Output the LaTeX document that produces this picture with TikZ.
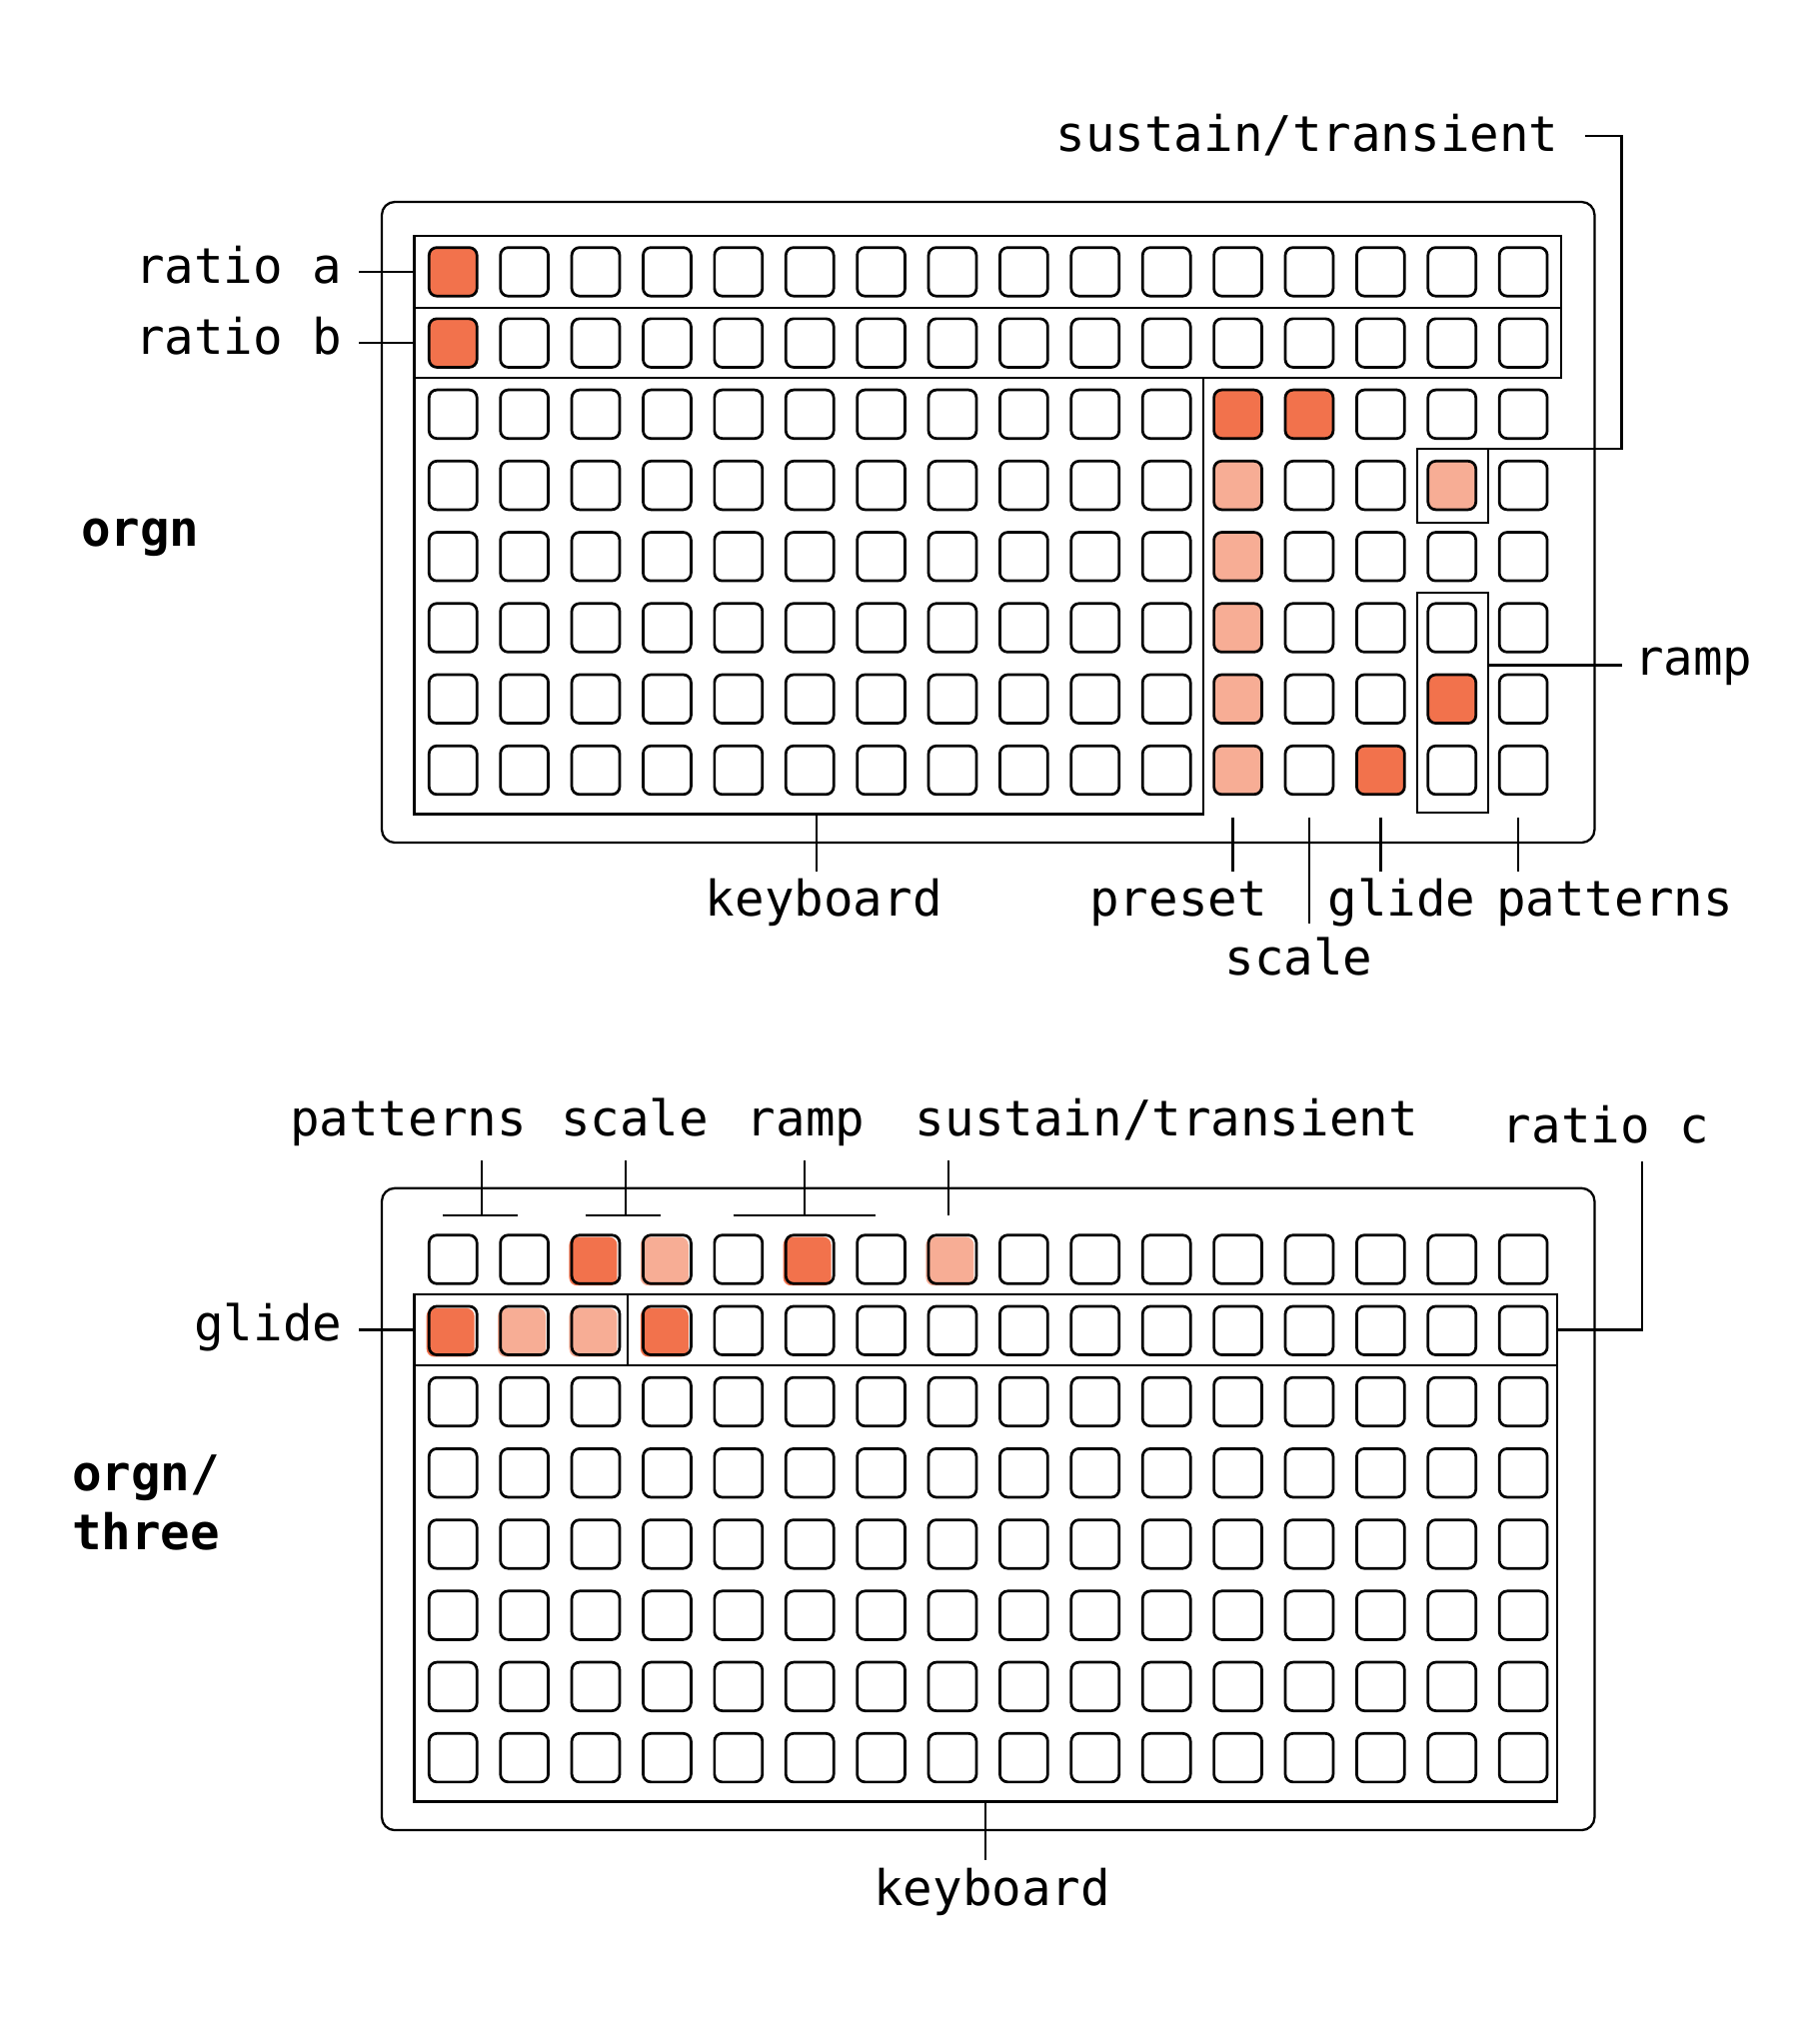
\documentclass[tikz,border=0pt]{standalone}
\usepackage{fontspec}
\setmonofont{DejaVu Sans Mono}
\usepackage{tikz}
\usetikzlibrary{positioning, calc, backgrounds}
\definecolor{hotpad}{RGB}{242, 114, 76}
\definecolor{warmpad}{RGB}{247, 173, 149}

\begin{document}
\begin{tikzpicture}[x=0.1mm, y=-0.1mm,
  pad/.style={draw, line width=0.6pt, rounded corners=0.6mm, minimum width=3.7mm, minimum height=3.75mm, inner sep=0pt, outer sep=0pt},
  zone/.style={draw, line width=0.5pt, inner sep=0pt, outer sep=0pt},
  device/.style={draw, line width=0.5pt, rounded corners=1mm, inner sep=0pt, outer sep=0pt, minimum width=93.7mm},
  lbl/.style={font=\ttfamily\fontsize{10.8pt}{13pt}\selectfont, inner sep=0pt},
  brand/.style={font=\ttfamily\bfseries\fontsize{10.8pt}{13pt}\selectfont, inner sep=0pt},
  lead/.style={line width=0.5pt}]
  \useasboundingbox (0,0) rectangle (1405.5,1567.6);

  % orgn
  \node[device, minimum height=49.5mm] (dev1) at (763.5,403.5) {};
  \foreach \r in {1,...,8}
    \foreach \c in {1,...,16}
      \node[pad] (t-\r-\c) at ({350+55.13*(\c-1)}, {210+55*(\r-1)}) {};
  \begin{pgfonlayer}{background}
    \foreach \r/\c in {1/1, 2/1, 3/12, 3/13, 7/15, 8/14}
      \fill[hotpad, rounded corners=0.6mm] (t-\r-\c.south west) rectangle (t-\r-\c.north east);
    \foreach \r/\c in {4/12, 5/12, 6/12, 7/12, 8/12, 4/15}
      \fill[warmpad, rounded corners=0.6mm] (t-\r-\c.south west) rectangle (t-\r-\c.north east);
  \end{pgfonlayer}

  \node[zone, minimum width=88.6mm, minimum height=5.6mm] (ratioa) at (763,210) {};
  \node[zone, minimum width=88.6mm, minimum height=5.4mm] (ratiob) at (763,265) {};
  \node[zone, minimum width=61mm, minimum height=33.7mm] (keys) at (625,460.5) {};
  \node[zone, minimum width=5.5mm, minimum height=5.7mm] (sustain) at (1122.5,375.5) {};
  \node[zone, minimum width=5.5mm, minimum height=17mm] (ramp) at (1122.5,543) {};

  \node[lbl, anchor=base east] (ratioa-l) at (265,219) {ratio a};
  \node[lbl, anchor=base east] (ratiob-l) at (265,274) {ratio b};
  \node[lbl, anchor=base east] (sustain-l) at (1205,117) {sustain/transient};
  \node[lbl, anchor=base west] (ramp-l) at (1262,522) {ramp};
  \node[lbl, anchor=base] (keys-l) at (636.5,708) {keyboard};
  \node[lbl, anchor=base] (preset-l) at (910.5,708) {preset};
  \node[lbl, anchor=base] (scale-l) at (1003.5,753) {scale};
  \node[lbl, anchor=base] (glide-l) at (1083,708) {glide};
  \node[lbl, anchor=base] (patterns-l) at (1247.5,708) {patterns};
  \node[brand, anchor=base west] (orgn) at (62,422) {orgn};

  \draw[lead] (ratioa.west) -- ++(-43,0);
  \draw[lead] (ratiob.west) -- ++(-43,0);
  \draw[lead] ($(sustain-l.base east)+(20,-12)$) -- ++(28,0) |- (sustain.north east);
  \draw[lead] ($(ramp.east)+(0,-29)$) -- ++(103,0);
  \draw[lead] ($(keys.south)+(6,0)$) -- ++(0,44);
  \draw[lead] ($(t-8-12.south)+(-4,18)$) -- ++(0,42);
  \draw[lead] ($(t-8-13.south)+(0,18)$) -- ++(0,82);
  \draw[lead] ($(t-8-14.south)+(0,18)$) -- ++(0,42);
  \draw[lead] ($(t-8-16.south)+(-4,18)$) -- ++(0,42);

  % orgn/three
  \node[device, minimum height=49.6mm] (dev2) at (763.5,1166) {};
  \foreach \r in {1,...,8}
    \foreach \c in {1,...,16}
      \node[pad] (b-\r-\c) at ({350+55.13*(\c-1)}, {973+55*(\r-1)}) {};
  \begin{pgfonlayer}{background}
    \foreach \r/\c in {1/3, 1/6, 2/1, 2/4}
      \fill[hotpad, rounded corners=0.6mm] ($(b-\r-\c.south west)+(-2,1.5)$) rectangle ($(b-\r-\c.north east)+(-2,1.5)$);
    \foreach \r/\c in {1/4, 1/8, 2/2, 2/3}
      \fill[warmpad, rounded corners=0.6mm] ($(b-\r-\c.south west)+(-2,1.5)$) rectangle ($(b-\r-\c.north east)+(-2,1.5)$);
  \end{pgfonlayer}

  \node[zone, minimum width=16.5mm, minimum height=5.5mm] (glide) at (402.5,1027.5) {};
  \node[zone, minimum width=71.8mm, minimum height=5.5mm] (ratioc) at (844,1027.5) {};
  \node[zone, minimum width=88.3mm, minimum height=33.7mm] (keys2) at (761.5,1223.5) {};

  \node[lbl, anchor=base] (patterns2-l) at (315.5,878) {patterns};
  \node[lbl, anchor=base] (scale2-l) at (490.5,878) {scale};
  \node[lbl, anchor=base] (ramp2-l) at (622.5,878) {ramp};
  \node[lbl, anchor=base] (sustain2-l) at (901.5,878) {sustain/transient};
  \node[lbl, anchor=base] (ratioc-l) at (1240.5,883) {ratio c};
  \node[lbl, anchor=base east] (glide2-l) at (265,1036) {glide};
  \node[lbl, anchor=base] (keys2-l) at (766.5,1472) {keyboard};
  \node[brand, anchor=base west] (orgn2) at (55,1152) {orgn/};
  \node[brand, anchor=base west] (three) at (55,1197) {three};

  \draw[lead] ($(b-1-1.north)+(-8,-15)$) -- ($(b-1-2.north)+(-5,-15)$);
  \draw[lead] ($(b-1-1.north)+(22,-15)$) -- ++(0,-43);
  \draw[lead] ($(b-1-3.north)+(-8,-15)$) -- ($(b-1-4.north)+(-5,-15)$);
  \draw[lead] ($(b-1-3.north)+(23,-15)$) -- ++(0,-43);
  \draw[lead] ($(b-1-5.north)+(-4,-15)$) -- ($(b-1-7.north)+(-4,-15)$);
  \draw[lead] ($(b-1-6.north)+(-4,-15)$) -- ++(0,-43);
  \draw[lead] ($(b-1-8.north)+(-3,-15)$) -- ++(0,-43);
  \draw[lead] (ratioc.east) -| ($(ratioc-l.base)+(28,14)$);
  \draw[lead] (glide.west) -- ++(-43,0);
  \draw[lead] (keys2.south) -- ++(0,45);
\end{tikzpicture}
\end{document}
